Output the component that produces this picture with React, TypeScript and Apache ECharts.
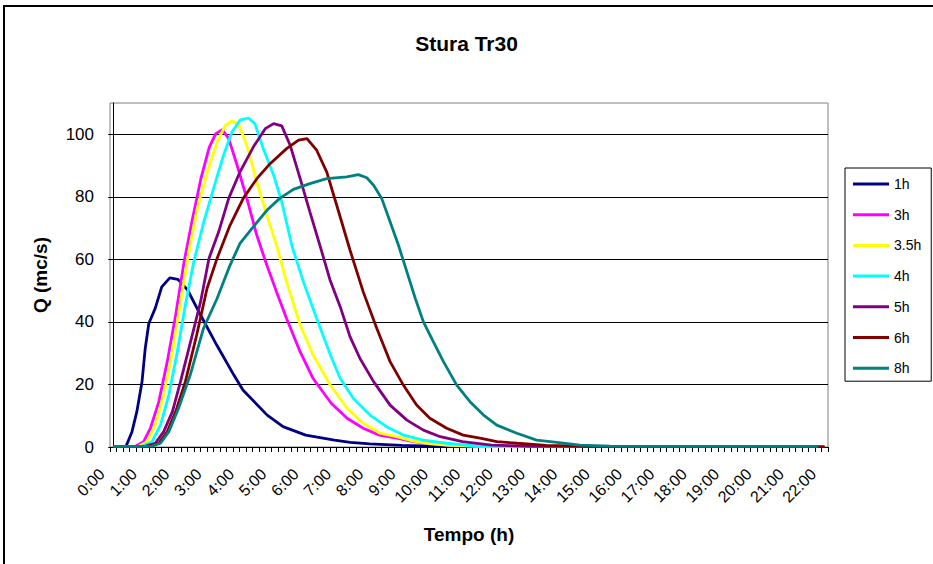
import React, { useEffect, useRef } from "react";
import * as echarts from "echarts";

const seriesNames = ["1h", "3h", "3.5h", "4h", "5h", "6h", "8h"];
const seriesColors = ["#000080", "#FF00FF", "#FFFF00", "#00FFFF", "#800080", "#800000", "#008080"];

// [hours, Q (mc/s)]
const q1h = [[0,0.2],[0.4,0.3],[0.58,4.9],[0.73,11.3],[0.89,20.9],[0.99,31.6],[1.1,39.5],[1.3,44.4],[1.5,51.2],[1.75,54.1],[2.0,53.6],[2.3,50.2],[2.7,42.2],[3.2,32.6],[3.73,23],[4.01,18.2],[4.76,10.2],[5.25,6.5],[5.95,3.8],[6.84,2.2],[7.33,1.5],[7.93,1.0],[8.92,0.5],[9.91,0.3],[10.9,0.2],[11.9,0.1],[21.8,0.1]];
const q3h = [[0,0.2],[0.7,0.3],[0.94,1.7],[1.15,6],[1.41,14.5],[1.67,27.3],[1.93,42.2],[2.19,59.2],[2.45,73],[2.71,85.8],[2.97,95.9],[3.17,100.2],[3.37,101.5],[3.57,98.6],[3.83,90.1],[4.13,79.5],[4.44,67.7],[4.75,58.1],[5.05,49.6],[5.36,41.1],[5.78,30.4],[6.18,21.9],[6.74,14],[7.23,9.2],[7.73,6],[8.23,3.8],[8.77,2.8],[9.27,1.7],[9.91,1.0],[10.4,0.5],[11.4,0.2],[21.8,0.1]];
const q35h = [[0,0.2],[0.8,0.3],[1.05,1.7],[1.3,7],[1.56,16.6],[1.83,30.4],[2.08,46.4],[2.34,62.4],[2.6,76.3],[2.91,88],[3.21,97.5],[3.47,102.9],[3.67,104.2],[3.87,103.4],[4.13,96.5],[4.44,84.8],[4.75,74.1],[5.05,64.5],[5.36,52.8],[5.78,39],[6.18,29.4],[6.7,20],[7.23,12.4],[7.73,7.6],[8.25,4.4],[8.77,3.3],[9.28,1.9],[9.81,1.0],[10.4,0.5],[11.4,0.2],[21.8,0.1]];
const q4h = [[0,0.2],[0.9,0.3],[1.2,1.7],[1.46,7],[1.72,16.6],[1.98,30.4],[2.23,45.4],[2.49,59.2],[2.8,72],[3.1,82.6],[3.41,93.3],[3.67,100.7],[3.92,104.5],[4.18,105.2],[4.38,103.4],[4.64,95.4],[4.96,86.9],[5.21,78.4],[5.52,64.5],[5.88,52.8],[6.29,41.1],[6.74,28.8],[7.02,21.9],[7.42,15.6],[7.94,10.2],[8.45,6.5],[8.97,3.8],[9.59,2.2],[10.31,1.2],[11.1,0.4],[11.9,0.2],[21.8,0.1]];
const q5h = [[0,0.2],[1.0,0.3],[1.3,1.2],[1.56,4.9],[1.83,11.3],[2.08,20.9],[2.39,33.6],[2.7,46.4],[2.96,60.3],[3.26,68.8],[3.57,79.5],[3.92,88],[4.33,95.9],[4.7,101.8],[4.96,103.4],[5.21,102.7],[5.47,96.5],[5.78,85.8],[6.08,75.2],[6.39,64.5],[6.7,53.5],[7.02,44.8],[7.32,35.3],[7.63,28.3],[8.05,20.9],[8.56,13.4],[9.08,8.6],[9.59,5.4],[10.11,3.3],[10.8,1.7],[11.7,0.6],[12.9,0.2],[21.8,0.1]];
const q6h = [[0,0.2],[1.1,0.3],[1.41,1.2],[1.67,4.9],[1.93,11.3],[2.23,20.9],[2.58,35.8],[2.9,50.7],[3.21,60.3],[3.61,70.9],[4.02,79.5],[4.44,85.8],[4.85,90.6],[5.36,95.4],[5.73,98.1],[5.99,98.6],[6.29,94.9],[6.6,88],[6.91,77.3],[7.32,63],[7.73,49.6],[8.15,37.9],[8.56,27.3],[8.97,19.8],[9.38,13.4],[9.79,9.2],[10.31,6],[10.82,3.8],[11.34,2.8],[11.86,1.7],[12.49,1.2],[13.38,0.5],[14.87,0.2],[22.0,0.1]];
const q8h = [[0,0.2],[1.2,0.3],[1.46,1.2],[1.72,4.9],[2.02,12.4],[2.38,23],[2.79,37.9],[3.21,47.5],[3.61,58.1],[3.92,65.1],[4.33,70.4],[4.75,75.7],[5.15,79.5],[5.57,82.4],[6.08,84.2],[6.6,85.8],[7.22,86.4],[7.58,87.1],[7.84,86.1],[8.05,83.7],[8.3,79.5],[8.56,72],[8.82,64.5],[9.08,56],[9.34,47.5],[9.59,40],[9.9,33.6],[10.21,27.3],[10.62,19.8],[11.03,14.5],[11.45,10.2],[11.86,7],[12.48,4.4],[13.09,2.2],[13.72,1.5],[14.43,0.6],[15.36,0.3],[16.35,0.2],[21.8,0.2]];
const seriesData = [q1h, q3h, q35h, q4h, q5h, q6h, q8h];

const hourLabels = [0,1,2,3,4,5,6,7,8,9,10,11,12,13,14,15,16,17,18,19,20,21,22];
const yTicks = [0, 20, 40, 60, 80, 100];
// boundaries of the 12-minute categories (0:00 ... 22:00)
const xTickBoundaries: number[] = [];
for (let k = 0; k <= 111; k++) xTickBoundaries.push(Math.round((-0.1 + 0.2 * k) * 10) / 10);

const FONT = "'Liberation Sans', Arial, sans-serif";

export default function App() {
  const ref = useRef<HTMLDivElement>(null);
  useEffect(() => {
    if (!ref.current) return;
    const chart = echarts.init(ref.current, undefined, { renderer: "svg" });
    chart.setOption({
      animation: false,
      backgroundColor: "#ffffff",
      textStyle: { fontFamily: FONT },
      title: {
        text: "Stura Tr30",
        left: "center",
        top: 28,
        textStyle: { fontFamily: FONT, fontSize: 21, fontWeight: "bold", color: "#000" },
      },
      graphic: [
        {
          type: "rect",
          shape: { x: 4, y: 6, width: 1000, height: 1000 },
          style: { fill: "none", stroke: "#000", lineWidth: 2 },
          silent: true,
        },
      ],
      legend: {
        orient: "vertical",
        left: 845,
        top: 168,
        padding: [9, 10, 6, 8],
        itemGap: 16.7,
        itemWidth: 36,
        itemHeight: 3,
        icon: "rect",
        backgroundColor: "#fff",
        borderColor: "#000",
        borderWidth: 1,
        borderRadius: 0,
        textStyle: { fontFamily: FONT, fontSize: 14, color: "#000", lineHeight: 14 },
        data: seriesNames,
      },
      grid: {
        left: 110,
        top: 103,
        width: 718,
        height: 344,
        show: true,
        borderColor: "#808080",
        borderWidth: 1,
        backgroundColor: "#fff",
      },
      xAxis: {
        type: "value",
        min: -0.1,
        max: 22.1,
        name: "Tempo (h)",
        nameLocation: "middle",
        nameGap: 78,
        nameTextStyle: { fontFamily: FONT, fontSize: 19, fontWeight: "bold", color: "#000" },
        axisLine: { show: true, lineStyle: { color: "#000", width: 1 } },
        axisTick: {
          show: true,
          customValues: xTickBoundaries,
          length: 5,
          lineStyle: { color: "#000", width: 1 },
        },
        axisLabel: {
          customValues: hourLabels,
          formatter: (v: number) => `${Math.round(v)}:00`,
          rotate: 45,
          margin: 13,
          padding: [0, 16, 0, 0],
          fontFamily: FONT,
          fontSize: 16,
          color: "#000",
        },
        splitLine: { show: false },
      },
      yAxis: {
        type: "value",
        min: 0,
        max: 110,
        interval: 20,
        name: "Q (mc/s)",
        nameLocation: "middle",
        nameRotate: 90,
        nameGap: 60,
        nameTextStyle: { fontFamily: FONT, fontSize: 19, fontWeight: "bold", color: "#000" },
        axisLine: { show: true, lineStyle: { color: "#000", width: 1 } },
        axisTick: { show: true, customValues: yTicks, length: 5, lineStyle: { color: "#000" } },
        axisLabel: {
          customValues: yTicks,
          margin: 16,
          fontFamily: FONT,
          fontSize: 17,
          color: "#000",
        },
        splitLine: { show: true, lineStyle: { color: "#000", width: 1 } },
      },
      series: seriesNames.map((name, i) => ({
        name,
        type: "line",
        data: seriesData[i],
        showSymbol: false,
        symbol: "none",
        lineStyle: { color: seriesColors[i], width: 2.8 },
        itemStyle: { color: seriesColors[i] },
      })),
    });
    return () => chart.dispose();
  }, []);
  return (
    <div
      ref={ref}
      style={{ position: "fixed", left: 0, top: 0, width: 933, height: 564 }}
    />
  );
}
